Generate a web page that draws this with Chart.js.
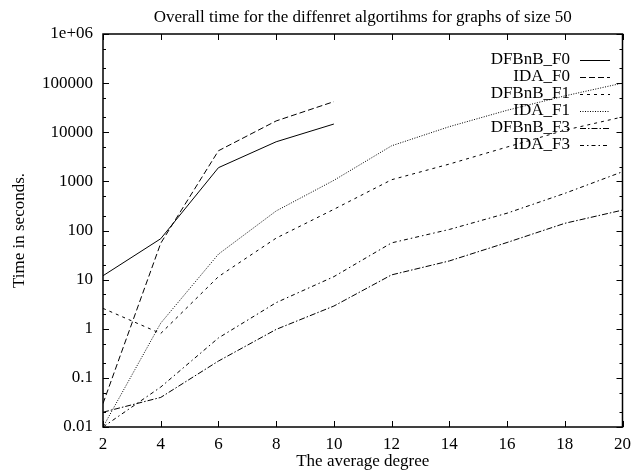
<!DOCTYPE html>
<html>
<head>
<meta charset="utf-8">
<script src="https://cdn.jsdelivr.net/npm/chart.js@4.4.1/dist/chart.umd.min.js"></script>
<style>
  html, body { margin: 0; padding: 0; background: #fff; }
  #wrap { width: 638px; height: 472px; }
</style>
</head>
<body>
<div id="wrap"><canvas id="chart_time_50"></canvas></div>
<script>
// Data
const degrees = [2, 4, 6, 8, 10, 12, 14, 16, 18, 20];
const dfbnbF0 = [12, 68, 1900, 6400, 14700];
const idaF0 = [0.03, 55, 4200, 17000, 42000];
const dfbnbF1 = [2.6, 0.8, 11.5, 70, 270, 1080, 2250, 5000, 11000, 20500];
const idaF1 = [0.01, 1.3, 33, 250, 1050, 5300, 13000, 28000, 55000, 100000];
const dfbnbF3 = [0.02, 0.04, 0.22, 0.97, 2.9, 12.5, 24, 57, 140, 260];
const idaF3 = [0.01, 0.065, 0.65, 3.4, 11.5, 56, 105, 225, 570, 1570];

const yTicks = [0.01, 0.1, 1, 10, 100, 1000, 10000, 100000, 1000000];
const xTicks = [2, 4, 6, 8, 10, 12, 14, 16, 18, 20];

const TITLE = 'Overall time for the diffenret algortihms for graphs of size 50';
const FONT = "'Liberation Serif', 'Times New Roman', serif";
const FONT_SIZE = 17;

function toPoints(values) {
  return values.map((v, i) => ({x: degrees[i], y: v}));
}

function makeSeries(label, values, dash) {
  return {
    label: label,
    data: toPoints(values),
    borderColor: '#000',
    borderWidth: 1,
    borderDash: dash,
    pointRadius: 0,
    tension: 0,
    fill: false
  };
}

// gnuplot-like frame: box all round, ticks pointing inwards, mirrored
// plus the title centred over the plot area
const framePlugin = {
  id: 'frame',
  afterDraw(chart) {
    const ctx = chart.ctx;
    const a = chart.chartArea;
    const xs = chart.scales.x;
    const ys = chart.scales.y;
    ctx.save();
    ctx.strokeStyle = '#000';
    ctx.lineWidth = 1.5;
    ctx.strokeRect(a.left, a.top, a.right - a.left, a.bottom - a.top);

    ctx.lineWidth = 1;
    ctx.beginPath();
    xTicks.forEach(v => {
      const px = Math.round(xs.getPixelForValue(v)) + 0.5;
      ctx.moveTo(px, a.bottom); ctx.lineTo(px, a.bottom - 6);
      ctx.moveTo(px, a.top); ctx.lineTo(px, a.top + 6);
    });
    yTicks.forEach((v, i) => {
      const py = Math.round(ys.getPixelForValue(v)) + 0.5;
      ctx.moveTo(a.left, py); ctx.lineTo(a.left + 6, py);
      ctx.moveTo(a.right, py); ctx.lineTo(a.right - 6, py);
      if (i < yTicks.length - 1) {
        [2, 5].forEach(m => {
          const my = Math.round(ys.getPixelForValue(v * m)) + 0.5;
          ctx.moveTo(a.left, my); ctx.lineTo(a.left + 3, my);
          ctx.moveTo(a.right, my); ctx.lineTo(a.right - 3, my);
        });
      }
    });
    ctx.stroke();

    ctx.fillStyle = '#000';
    ctx.font = FONT_SIZE + 'px ' + FONT;
    ctx.textAlign = 'center';
    ctx.textBaseline = 'middle';
    ctx.fillText(TITLE, (a.left + a.right) / 2, 18);
    ctx.restore();
  }
};

// Key in the top right corner: text right aligned, sample to its right
const keyPlugin = {
  id: 'key',
  afterDatasetsDraw(chart) {
    const ctx = chart.ctx;
    ctx.save();
    ctx.font = FONT_SIZE + 'px ' + FONT;
    ctx.textAlign = 'right';
    ctx.textBaseline = 'middle';
    chart.data.datasets.forEach((ds, i) => {
      const y = 60 + i * 17;
      ctx.fillStyle = '#000';
      ctx.fillText(ds.label, 570, y);
      ctx.beginPath();
      ctx.setLineDash(ds.borderDash || []);
      ctx.strokeStyle = '#000';
      ctx.lineWidth = 1;
      ctx.moveTo(580, y + 0.5);
      ctx.lineTo(610, y + 0.5);
      ctx.stroke();
    });
    ctx.restore();
  }
};

document.addEventListener('DOMContentLoaded', function() {
  if (typeof Chart === 'undefined') {
    console.error('Chart.js is not loaded');
    return;
  }
  const ctx = document.getElementById('chart_time_50').getContext('2d');
  new Chart(ctx, {
    type: 'line',
    data: {
      datasets: [
        makeSeries('DFBnB_F0', dfbnbF0, []),
        makeSeries('IDA_F0', idaF0, [6, 3]),
        makeSeries('DFBnB_F1', dfbnbF1, [3, 4]),
        makeSeries('IDA_F1', idaF1, [1, 1.5]),
        makeSeries('DFBnB_F3', dfbnbF3, [6, 2, 1.5, 2]),
        makeSeries('IDA_F3', idaF3, [4, 3, 1.5, 3])
      ]
    },
    options: {
      responsive: true,
      maintainAspectRatio: false,
      animation: false,
      layout: {padding: {left: 0, right: 10, top: 34, bottom: 0}},
      plugins: {
        legend: {display: false},
        tooltip: {enabled: false},
        title: {display: false}
      },
      scales: {
        x: {
          type: 'linear',
          min: 2,
          max: 20,
          afterBuildTicks: scale => { scale.ticks = xTicks.map(v => ({value: v})); },
          afterFit: scale => { scale.height = 45; },
          grid: {display: false, drawTicks: false},
          border: {display: false},
          ticks: {color: '#000', font: {family: FONT, size: FONT_SIZE}, padding: 7, maxRotation: 0},
          title: {
            display: true,
            text: 'The average degree',
            color: '#000',
            font: {family: FONT, size: FONT_SIZE},
            padding: {top: 0, bottom: 0}
          }
        },
        y: {
          type: 'logarithmic',
          min: 0.01,
          max: 1000000,
          afterBuildTicks: scale => { scale.ticks = yTicks.map(v => ({value: v})); },
          afterFit: scale => { scale.width = 103; },
          grid: {display: false, drawTicks: false},
          border: {display: false},
          ticks: {
            color: '#000',
            font: {family: FONT, size: FONT_SIZE},
            padding: 10,
            callback: v => v === 1000000 ? '1e+06' : String(v)
          },
          title: {
            display: true,
            text: 'Time in seconds.',
            color: '#000',
            font: {family: FONT, size: FONT_SIZE},
            padding: {top: 9, bottom: 0}
          }
        }
      }
    },
    plugins: [framePlugin, keyPlugin]
  });
});
</script>
</body>
</html>
